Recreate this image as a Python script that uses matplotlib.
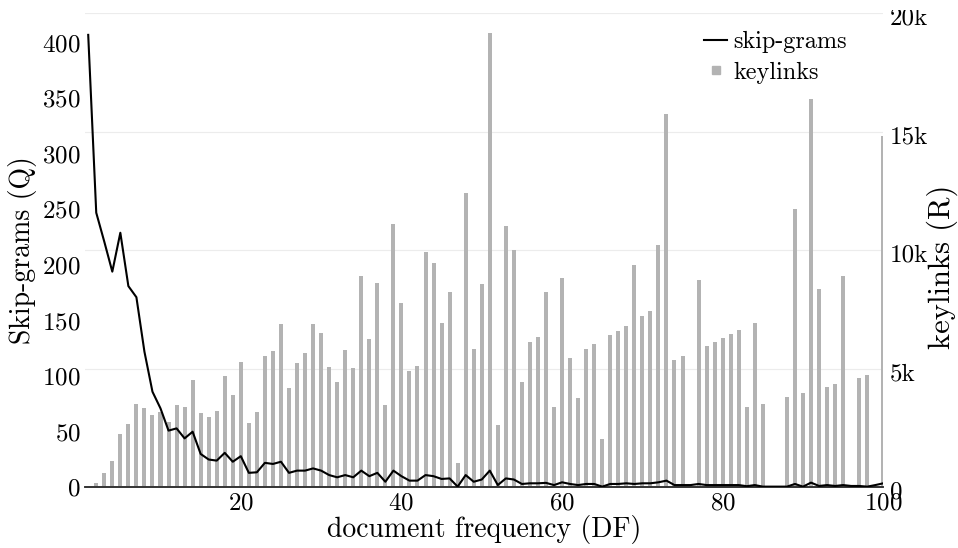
import matplotlib
matplotlib.use("Agg")
import matplotlib.pyplot as plt
from matplotlib.lines import Line2D
from matplotlib.ticker import FuncFormatter
from matplotlib.transforms import Bbox, TransformedBbox, IdentityTransform, ScaledTranslation
import numpy as np

plt.rcParams['font.family'] = ['cmr10', 'DejaVu Serif']
plt.rcParams['axes.formatter.use_mathtext'] = True

df = list(range(1, 101))

skip_grams = [407, 247, 221, 194, 229, 181, 171, 122, 86, 71,
              51, 53, 44, 50, 30, 25, 24, 31, 23, 28,
              13, 13.5, 22, 21, 23, 13, 15, 15, 17, 15,
              11, 9, 11, 9, 15, 10, 13, 5, 15, 10,
              6, 6, 11, 10, 7.5, 8, 0.6, 11, 5, 7,
              15, 2, 8, 7, 3, 3.6, 3.6, 4, 2, 4.5,
              3, 2, 3, 3, 0.6, 3, 3, 3.6, 3, 3.6,
              3.6, 4.5, 6, 2, 2, 2, 3, 2, 2, 2,
              2, 2, 1, 2, 0.6, 0.6, 0.6, 0.6, 3, 0.6,
              4.2, 1.2, 2, 1.2, 2, 1.2, 1.2, 0.6, 2, 3.6]

keylinks = [0, 200, 600, 1111, 2250, 2671, 3515, 3332, 3051, 3164,
            2770, 3473, 3403, 4527, 3121, 2967, 3220, 4710, 3895, 5301,
            2700, 3192, 5540, 5765, 6889, 4204, 5258, 5652, 6889, 6524,
            5090, 4429, 5779, 5019, 8900, 6271, 8633, 3473, 11093, 7775,
            4907, 5132, 9912, 9448, 6918, 8253, 1040, 12401, 5849, 8563,
            19150, 2629, 11009, 10011, 4429, 6144, 6355, 8239, 3403, 8830,
            5455, 3754, 5835, 6032, 2039, 6411, 6608, 6805, 9364, 7227,
            7424, 10208, 15761, 5371, 5526, 0, 8759, 5976, 6144, 6299,
            6454, 6622, 3374, 6946, 3529, 0, 0, 3796, 11740, 3965,
            16380, 8352, 4246, 4345, 8914, 0, 4626, 4724, 0, 14833]

x_ticks = [20, 40, 60, 80, 100]
q_ticks = [0, 50, 100, 150, 200, 250, 300, 350, 400]
r_ticks = [0, 5000, 10000, 15000, 20000]

W, H = 958, 548
fig = plt.figure(figsize=(W / 100, H / 100), dpi=100)
left, right = 85 / W, 883.3 / W
bottom, top = 1 - 487.3 / H, 1 - 13.3 / H
ax = fig.add_axes([left, bottom, right - left, top - bottom])
ax2 = ax.twinx()

bar_color = '#b3b3b3'
ax2.bar(df, keylinks, width=0.5, color=bar_color, linewidth=0, zorder=2)
ax.plot(df, skip_grams, color='black', linewidth=1.5, zorder=3)

ax.set_zorder(ax2.get_zorder() + 1)
ax.patch.set_visible(False)

ax.set_xlim(0.6, 100)
ax.set_ylim(0, 426.4)
ax2.set_ylim(0, 20000)

ax.set_xticks(x_ticks)
ax.set_yticks(q_ticks)
ax2.set_yticks(r_ticks)
ax2.yaxis.set_major_formatter(FuncFormatter(lambda v, p: '0' if v == 0 else f'{int(v/1000)}k'))

ax2.grid(axis='y', color='#ececec', linewidth=0.8)
ax2.set_axisbelow(True)

for a in (ax, ax2):
    for s in ('top', 'left', 'right'):
        a.spines[s].set_visible(False)
    a.spines['bottom'].set_color('#333333')
    a.spines['bottom'].set_linewidth(1.2)
    a.tick_params(length=0, labelsize=18)
ax.tick_params(axis='y', pad=3)
ax2.tick_params(axis='y', pad=5)
ax.tick_params(axis='x', pad=4)

# right tick labels sit slightly below their gridlines; top one is clipped at the figure top
shift = ScaledTranslation(0, -3 / 100, fig.dpi_scale_trans)
for lab in ax2.get_yticklabels():
    lab.set_transform(lab.get_transform() + shift)
clip = TransformedBbox(Bbox([[0, 0], [W, H - 10]]), IdentityTransform())
top_tick = ax2.yaxis.get_major_ticks()[-1]
top_tick.label2.set_clip_box(clip)
top_tick.label2.set_clip_on(True)

ax.set_xlabel('document frequency (DF)', fontsize=20, labelpad=0)
ax.set_ylabel('Skip-grams (Q)', fontsize=20, labelpad=4)
ax2.set_ylabel('keylinks (R)', fontsize=22)
ax2.yaxis.set_label_coords((927 - 85) / (883.3 - 85), (487.3 - 266.5) / 474)

handles = [Line2D([], [], color='black', linewidth=1.5),
           Line2D([], [], color=bar_color, marker='s', linestyle='none', markersize=5.8)]
ax.legend(handles, ['skip-grams', 'keylinks'], loc='upper left',
          bbox_to_anchor=(704 / W, 1 - 31 / H), bbox_transform=fig.transFigure,
          frameon=False, fontsize=17.5, handlelength=0.95, handletextpad=0.25,
          labelspacing=0.36, borderpad=0, borderaxespad=0)

fig.savefig('out.png', dpi=100)
